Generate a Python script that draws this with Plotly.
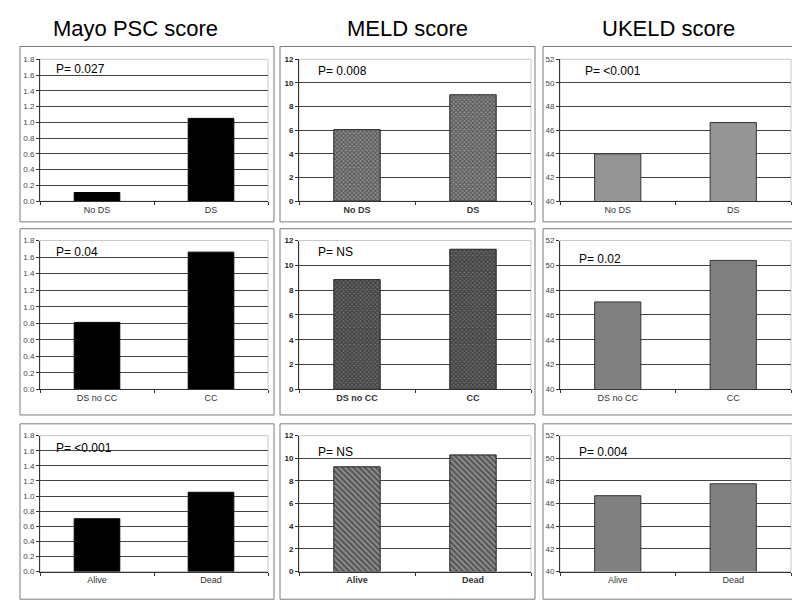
import plotly.graph_objects as go

# --- data ---
titles = ["Mayo PSC score", "MELD score", "UKELD score"]

cats_ds = ["No DS", "DS"]
cats_cc = ["DS no CC", "CC"]
cats_surv = ["Alive", "Dead"]

mayo_ds = [0.11, 1.05]
mayo_cc = [0.81, 1.66]
mayo_surv = [0.70, 1.05]

meld_ds = [6.05, 9.0]
meld_cc = [8.85, 11.3]
meld_surv = [9.25, 10.3]

ukeld_ds = [44.0, 46.65]
ukeld_cc = [47.05, 50.4]
ukeld_surv = [46.7, 47.75]

p_mayo = ["P= 0.027", "P= 0.04", "P= <0.001"]
p_meld = ["P= 0.008", "P= NS", "P= NS"]
p_ukeld = ["P= <0.001", "P= 0.02", "P= 0.004"]

W, H = 800, 609
FONT = "Liberation Sans, Arial, sans-serif"

rows = [
    (cats_ds, [mayo_ds, meld_ds, ukeld_ds]),
    (cats_cc, [mayo_cc, meld_cc, ukeld_cc]),
    (cats_surv, [mayo_surv, meld_surv, ukeld_surv]),
]
pvals = [p_mayo, p_meld, p_ukeld]

# pixel geometry of panels (plot areas and outer boxes)
plot_x = [(32, 260), (291, 523), (552, 783)]
plot_y = [(48, 192), (232, 383), (430, 568)]
box_x = [(12, 266), (272, 527), (535, 788)]
box_y = [(35, 213), (220, 409), (418, 596)]
# P-label positions within each plot (domain fractions) [row][col]
p_pos = [
    [(0.06, 0.93), (0.073, 0.92), (0.10, 0.92)],
    [(0.06, 0.92), (0.073, 0.92), (0.074, 0.875)],
    [(0.06, 0.91), (0.073, 0.88), (0.074, 0.877)],
]

axis_cfg = [
    dict(range=[0, 1.8], dtick=0.2, tickformat=".1f", bold=False),
    dict(range=[0, 12], dtick=2, tickformat="d", bold=True),
    dict(range=[40, 52], dtick=2, tickformat="d", bold=False),
]

meld_patterns = [
    dict(shape="x", size=3, solidity=0.5, fgcolor="#151515", bgcolor="#8e8e8e"),
    dict(shape="x", size=3, solidity=0.6, fgcolor="#101010", bgcolor="#6e6e6e"),
    dict(shape="\\", size=4, solidity=0.5, fgcolor="#151515", bgcolor="#8e8e8e"),
]
ukeld_colors = ["#959595", "#808080", "#808080"]

fig = go.Figure()
shapes = []
annotations = []
layout_axes = {}

for r, (cats, series) in enumerate(rows):
    for c in range(3):
        n = r * 3 + c + 1
        xs = "x" if n == 1 else f"x{n}"
        ys = "y" if n == 1 else f"y{n}"
        vals = series[c]

        if c == 0:
            marker = dict(color="black", line=dict(color="black", width=1))
        elif c == 1:
            marker = dict(color=meld_patterns[r]["bgcolor"], pattern=meld_patterns[r],
                          line=dict(color="#222222", width=1))
        else:
            marker = dict(color=ukeld_colors[r], line=dict(color="#333333", width=1))

        fig.add_trace(go.Bar(x=cats, y=vals, xaxis=xs, yaxis=ys, width=0.4,
                             marker=marker, showlegend=False))

        x0, x1 = plot_x[c]
        y0, y1 = plot_y[r]
        cfg = axis_cfg[c]
        lo, hi = cfg["range"]
        step = cfg["dtick"]
        k = round((hi - lo) / step)
        grid_vals = [lo + i * step for i in range(1, k)]
        tickfont = dict(family=FONT, size=8, color="#444444")
        if cfg["bold"]:
            tickfont = dict(family=FONT, size=8, color="#222222", weight="bold")

        layout_axes["xaxis" if n == 1 else f"xaxis{n}"] = dict(
            domain=[x0 / W, x1 / W], anchor=ys, showgrid=False,
            showline=True, linecolor="#333333", linewidth=1,
            ticks="outside", ticklen=3, tickcolor="#333333", tickson="boundaries",
            tickfont=dict(family=FONT, size=9, color="#333333",
                          weight="bold" if cfg["bold"] else "normal"),
            fixedrange=True,
        )
        layout_axes["yaxis" if n == 1 else f"yaxis{n}"] = dict(
            domain=[1 - y1 / H, 1 - y0 / H], anchor=xs,
            range=cfg["range"], dtick=step, tick0=lo, tickformat=cfg["tickformat"],
            showgrid=False, zeroline=False,
            minor=dict(tickvals=grid_vals, showgrid=True, gridcolor="#444444",
                       gridwidth=1, ticks=""),
            showline=True, linecolor="#333333", linewidth=1,
            ticks="outside", ticklen=3, tickcolor="#333333",
            tickfont=tickfont, fixedrange=True,
        )

        # light plot-area border (top/right)
        shapes.append(dict(type="rect", xref="paper", yref="paper",
                           x0=x0 / W, x1=x1 / W, y0=1 - y1 / H, y1=1 - y0 / H,
                           line=dict(color="#c8c8c8", width=1), layer="below"))
        # outer panel box
        bx0, bx1 = box_x[c]
        by0, by1 = box_y[r]
        shapes.append(dict(type="rect", xref="paper", yref="paper",
                           x0=bx0 / W, x1=bx1 / W, y0=1 - by1 / H, y1=1 - by0 / H,
                           line=dict(color="#7a7a7a", width=1), layer="below"))

        px, py = p_pos[r][c]
        annotations.append(dict(text=pvals[c][r], xref=f"{xs} domain", yref=f"{ys} domain",
                                x=px, y=py, xanchor="left", yanchor="middle",
                                showarrow=False, font=dict(family=FONT, size=12, color="black")))

title_x = [127, 399, 660]
for c, t in enumerate(titles):
    annotations.append(dict(text=t, xref="paper", yref="paper", x=title_x[c] / W,
                            y=1 - 17 / H, xanchor="center", yanchor="middle",
                            showarrow=False, font=dict(family=FONT, size=22, color="black")))

fig.update_layout(
    width=W, height=H,
    margin=dict(l=0, r=0, t=0, b=0),
    paper_bgcolor="white", plot_bgcolor="white",
    shapes=shapes, annotations=annotations,
    **layout_axes,
)

fig.write_html("out.html")
